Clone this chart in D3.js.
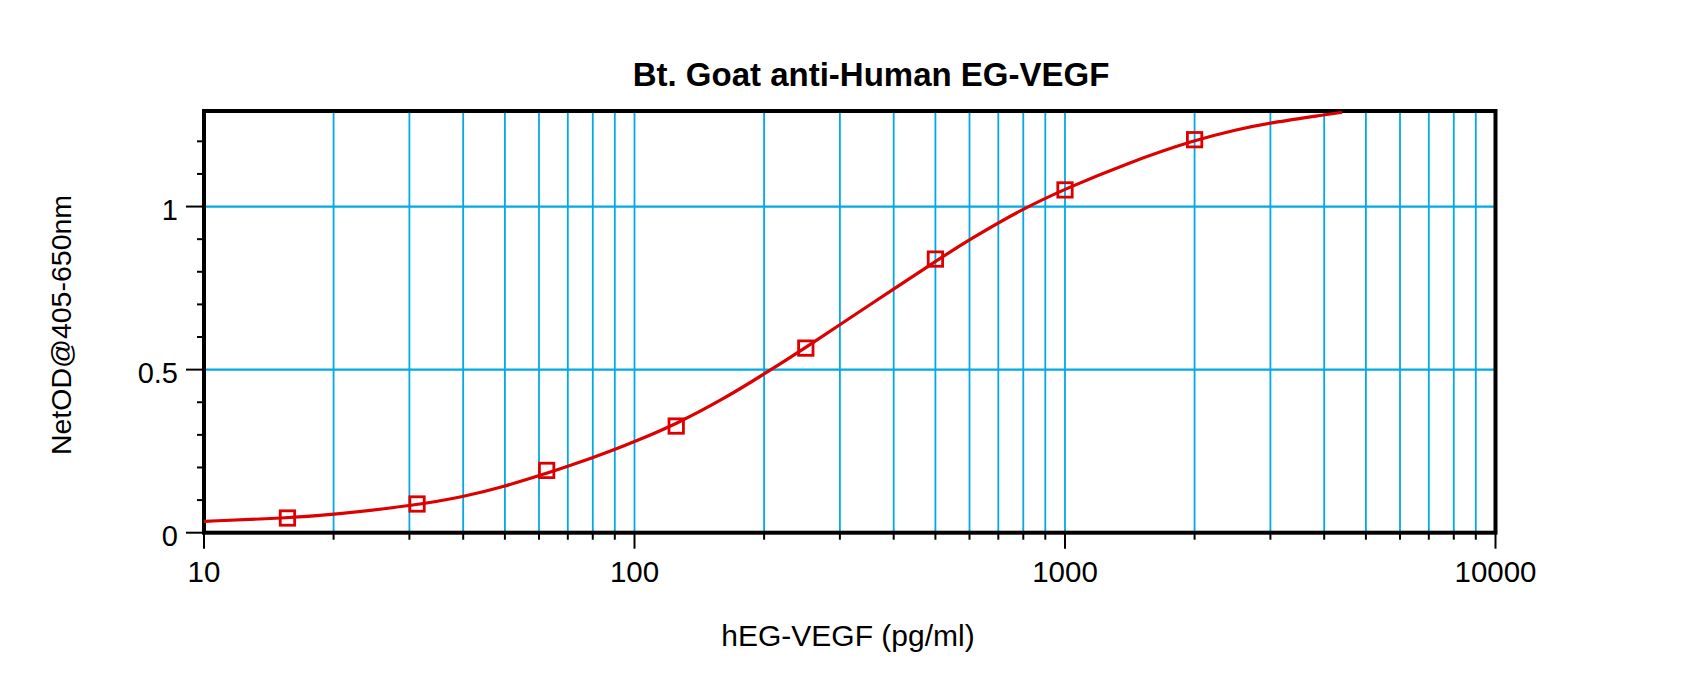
<!DOCTYPE html>
<html>
<head>
<meta charset="utf-8">
<script src="https://cdn.jsdelivr.net/npm/d3@7"></script>
<style>
  body { margin: 0; background: #fff; }
  svg { display: block; }
  text { font-family: Arial, "Liberation Sans", sans-serif; fill: #000; }
</style>
</head>
<body>
<div id="chart"></div>
<script>
// standard points (pg/ml) and net OD
var concentrations = [15.625, 31.25, 62.5, 125, 250, 500, 1000, 2000];
var netOD = [0.045, 0.088, 0.191, 0.327, 0.566, 0.839, 1.051, 1.205];

// fitted curve
var curveX = [10, 15.6, 20, 31.25, 40, 50, 62.5, 70, 80, 90, 100, 125, 160, 200, 250, 300, 400, 500, 600, 800, 1000, 1400, 2000, 2500, 3000, 4000, 4400];
var curveY = [0.035, 0.045, 0.055, 0.085, 0.11, 0.142, 0.182, 0.204, 0.230, 0.255, 0.279, 0.333, 0.408, 0.486, 0.568, 0.638, 0.747, 0.832, 0.899, 0.994, 1.054, 1.134, 1.204, 1.236, 1.257, 1.281, 1.289];

var xMajorTicks = [10, 100, 1000, 10000];
var xTickLabels = ["10", "100", "1000", "10000"];
var yMajorTicks = [0, 0.5, 1];
var yTickLabels = ["0", "0.5", "1"];
var yGridLines = [0.5, 1];

var title = "Bt. Goat anti-Human EG-VEGF";
var xTitle = "hEG-VEGF (pg/ml)";
var yTitle = "NetOD@405-650nm";

var width = 1700, height = 676;
// plot box (window.top is taken, so prefixed names)
var pLeft = 204, pRight = 1495.5, pTop = 111, pBottom = 532.7;
var red = "#dd0000", blue = "#00aae4";

var svg = d3.select("#chart").append("svg")
	.attr("width", width)
	.attr("height", height);

var x = d3.scaleLog().domain([10, 10000]).range([pLeft, pRight]);
var y = d3.scaleLinear().domain([0, 1.293]).range([pBottom, pTop]);

// vertical grid, every 1..9 of each decade
svg.append("g").selectAll("line")
	.data(x.ticks())
	.enter().append("line")
	.attr("x1", function(d){return x(d);})
	.attr("x2", function(d){return x(d);})
	.attr("y1", pTop)
	.attr("y2", pBottom)
	.style("stroke", blue)
	.style("stroke-width", 1.8);

svg.append("g").selectAll("line")
	.data(yGridLines)
	.enter().append("line")
	.attr("x1", pLeft)
	.attr("x2", pRight)
	.attr("y1", function(d){return y(d);})
	.attr("y2", function(d){return y(d);})
	.style("stroke", blue)
	.style("stroke-width", 2.2);

// x axis ticks
var xAxis = svg.append("g");
xAxis.selectAll("line")
	.data(x.ticks())
	.enter().append("line")
	.attr("x1", function(d){return x(d);})
	.attr("x2", function(d){return x(d);})
	.attr("y1", pBottom)
	.attr("y2", function(d){return xMajorTicks.indexOf(d) >= 0 ? pBottom + 16 : pBottom + 7;})
	.style("stroke", "#000")
	.style("stroke-width", 2);
xAxis.selectAll("text")
	.data(xMajorTicks)
	.enter().append("text")
	.attr("x", function(d){return x(d);})
	.attr("y", pBottom + 49)
	.attr("text-anchor", "middle")
	.style("font-size", "29.5px")
	.text(function(d, i){return xTickLabels[i];});

// y axis ticks
var yAxis = svg.append("g");
yAxis.selectAll("line")
	.data(y.ticks(13))
	.enter().append("line")
	.attr("x1", function(d){return yMajorTicks.indexOf(d) >= 0 ? pLeft - 18 : pLeft - 7;})
	.attr("x2", pLeft)
	.attr("y1", function(d){return y(d);})
	.attr("y2", function(d){return y(d);})
	.style("stroke", "#000")
	.style("stroke-width", 2);
yAxis.selectAll("text")
	.data(yMajorTicks)
	.enter().append("text")
	.attr("x", pLeft - 26)
	.attr("y", function(d){return y(d) + 13.5;})
	.attr("text-anchor", "end")
	.style("font-size", "29px")
	.text(function(d, i){return yTickLabels[i];});

// frame
svg.append("rect")
	.attr("x", pLeft)
	.attr("y", pTop)
	.attr("width", pRight - pLeft)
	.attr("height", pBottom - pTop)
	.style("fill", "none")
	.style("stroke", "#000")
	.style("stroke-width", 4);

svg.append("clipPath").attr("id", "plotClip")
	.append("rect")
	.attr("x", pLeft).attr("y", pTop)
	.attr("width", pRight - pLeft).attr("height", pBottom - pTop);

var curveData = curveX.map(function(d, i){return {c: d, od: curveY[i]};});
var line = d3.line()
	.x(function(d){return x(d.c);})
	.y(function(d){return y(d.od);})
	.curve(d3.curveBasis);

svg.append("path")
	.datum(curveData)
	.attr("clip-path", "url(#plotClip)")
	.attr("d", line)
	.style("fill", "none")
	.style("stroke", red)
	.style("stroke-width", 3.2);

var pts = concentrations.map(function(d, i){return {c: d, od: netOD[i]};});
svg.append("g").selectAll("rect")
	.data(pts)
	.enter().append("rect")
	.attr("x", function(d){return x(d.c) - 7.2;})
	.attr("y", function(d){return y(d.od) - 7.2;})
	.attr("width", 14.4)
	.attr("height", 14.4)
	.style("fill", "none")
	.style("stroke", red)
	.style("stroke-width", 2.8);

// titles
svg.append("text")
	.attr("x", 871)
	.attr("y", 86)
	.attr("text-anchor", "middle")
	.style("font-size", "33px")
	.style("font-weight", "bold")
	.text(title);

svg.append("text")
	.attr("x", 848)
	.attr("y", 646)
	.attr("text-anchor", "middle")
	.style("font-size", "30px")
	.text(xTitle);

svg.append("text")
	.attr("transform", "translate(71,325) rotate(-90)")
	.attr("text-anchor", "middle")
	.style("font-size", "28.5px")
	.text(yTitle);
</script>
</body>
</html>
